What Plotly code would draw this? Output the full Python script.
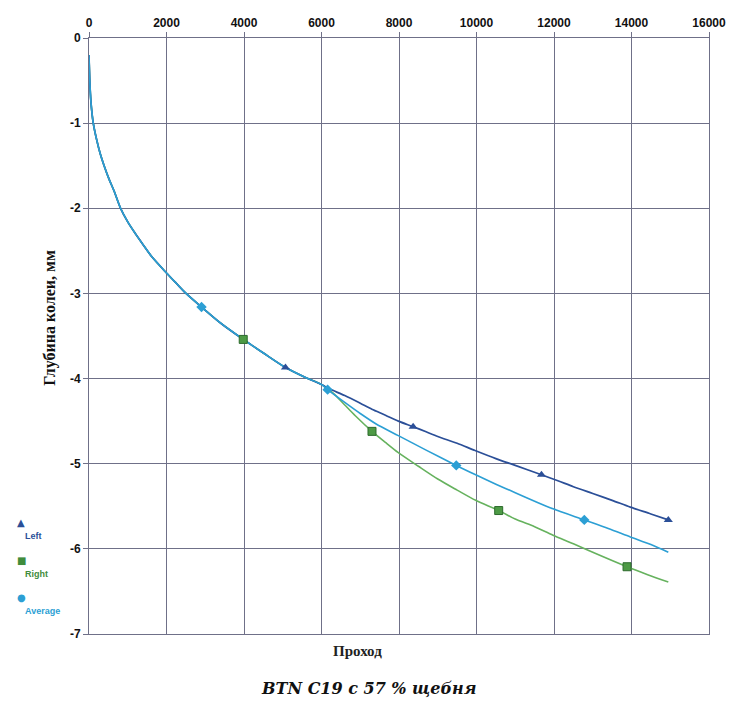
import plotly.graph_objects as go

# ---- data ----
early_x = [0, 20, 50, 110, 200, 290, 390, 520, 650, 815, 1000, 1200, 1400, 1623, 2000, 2250, 2504, 2904, 3400, 3980, 4500, 5070, 5600, 6000]
early_y = [-0.2, -0.5, -0.75, -1.0, -1.2, -1.36, -1.5, -1.66, -1.8, -2.0, -2.16, -2.3, -2.43, -2.57, -2.76, -2.88, -3.0, -3.16, -3.35, -3.54, -3.7, -3.87, -3.99, -4.07]

left_x = early_x + [6200, 6600, 7000, 7300, 7650, 7983, 8365, 8700, 9000, 9500, 9936, 10500, 11000, 11677, 12100, 12500, 13000, 13500, 13970, 14500, 14950]
left_y = early_y + [-4.12, -4.2, -4.29, -4.36, -4.43, -4.5, -4.565, -4.625, -4.68, -4.76, -4.84, -4.94, -5.02, -5.13, -5.2, -5.27, -5.35, -5.43, -5.51, -5.59, -5.66]

right_x = early_x + [6300, 6600, 6879, 7303, 7650, 7983, 8500, 9000, 9500, 9979, 10573, 11000, 11500, 11975, 12500, 13000, 13885, 14400, 14950]
right_y = early_y + [-4.17, -4.31, -4.44, -4.62, -4.75, -4.87, -5.03, -5.18, -5.31, -5.43, -5.55, -5.65, -5.74, -5.84, -5.94, -6.04, -6.21, -6.3, -6.39]

avg_x = early_x + [6158, 6600, 7000, 7400, 7983, 8700, 9478, 9979, 10500, 11000, 11500, 11975, 12782, 13400, 13970, 14500, 14950]
avg_y = early_y + [-4.13, -4.28, -4.41, -4.53, -4.67, -4.84, -5.02, -5.13, -5.24, -5.34, -5.44, -5.53, -5.66, -5.76, -5.86, -5.95, -6.04]

left_mx = [5070, 8365, 11677, 14950]
left_my = [-3.87, -4.565, -5.13, -5.66]
right_mx = [3980, 7303, 10573, 13885]
right_my = [-3.54, -4.62, -5.55, -6.21]
avg_mx = [2904, 6158, 9478, 12782]
avg_my = [-3.16, -4.13, -5.02, -5.66]

series_names = ["Left", "Right", "Average"]
x_ticks = [0, 2000, 4000, 6000, 8000, 10000, 12000, 14000, 16000]
y_ticks = [0, -1, -2, -3, -4, -5, -6, -7]

C_LEFT = "#2b4f98"
C_RIGHT_LINE = "#66b25e"
C_RIGHT_MK = "#3f8c3c"
C_AVG = "#2c9fd4"
GRID = "#6f7088"

fig = go.Figure()
fig.add_trace(go.Scatter(x=right_x, y=right_y, mode="lines", line=dict(color=C_RIGHT_LINE, width=1.6, shape="spline", smoothing=0.8), showlegend=False))
fig.add_trace(go.Scatter(x=left_x, y=left_y, mode="lines", line=dict(color=C_LEFT, width=1.7, shape="spline", smoothing=0.8), showlegend=False))
fig.add_trace(go.Scatter(x=avg_x, y=avg_y, mode="lines", line=dict(color=C_AVG, width=1.6, shape="spline", smoothing=0.8), showlegend=False))
fig.add_trace(go.Scatter(x=right_mx, y=right_my, mode="markers",
                         marker=dict(symbol="square", size=8, color="#4d9a45", line=dict(color="#2d6b2d", width=1)), showlegend=False))
fig.add_trace(go.Scatter(x=left_mx, y=left_my, mode="markers",
                         marker=dict(symbol="triangle-up", size=8, color=C_LEFT), showlegend=False))
fig.add_trace(go.Scatter(x=avg_mx, y=avg_my, mode="markers",
                         marker=dict(symbol="diamond", size=8, color=C_AVG), showlegend=False))

tickfont = dict(family="Liberation Sans, Arial", size=12, color="#111111", weight="bold")
fig.update_xaxes(range=[0, 16000], side="top", tickvals=x_ticks, ticktext=[str(v) for v in x_ticks],
                 showgrid=True, gridcolor=GRID, gridwidth=1, showline=True, linecolor=GRID, linewidth=1, mirror=True,
                 ticks="outside", ticklen=5, tickcolor=GRID, tickfont=tickfont, zeroline=False)
fig.update_yaxes(range=[-7, 0], tickvals=y_ticks, ticktext=[str(v) for v in y_ticks],
                 showgrid=True, gridcolor=GRID, gridwidth=1, showline=True, linecolor=GRID, linewidth=1, mirror=True,
                 ticks="outside", ticklen=5, tickcolor=GRID, tickfont=tickfont, zeroline=False)

L, R, T, B = 89, 21, 38, 76
W, H = 738, 710
pw, ph = W - L - R, H - T - B

def px(x):
    return (x - L) / pw

def py(y):
    return 1 - (y - T) / ph

anns = []
anns.append(dict(x=px(38), y=py(318), xref="paper", yref="paper", text="Глубина колеи, мм", textangle=-90,
                 showarrow=False, font=dict(family="Liberation Serif", size=16, color="#111111", weight="bold")))
anns.append(dict(x=px(361), y=py(661), xref="paper", yref="paper", text="Проход",
                 showarrow=False, font=dict(family="Liberation Serif", size=15, color="#222222", weight="bold")))
anns.append(dict(x=px(372), y=py(700), xref="paper", yref="paper", text="<b><i>BTN C19 с 57 % щебня</i></b>",
                 showarrow=False, font=dict(family="DejaVu Serif", size=16, color="#111111")))

# legend (symbols above labels)
leg = [("▲", C_LEFT, 530, series_names[0], 543),
       ("■", C_RIGHT_MK, 568, series_names[1], 581),
       ("●", C_AVG, 605, series_names[2], 618)]
for sym, col, sy, name, ty in leg:
    anns.append(dict(x=px(14), y=py(sy), xref="paper", yref="paper", text=sym, showarrow=False,
                     font=dict(family="DejaVu Sans", size=10, color=col)))
    anns.append(dict(x=px(22), y=py(ty), xref="paper", yref="paper", text=name, showarrow=False, xanchor="left",
                     font=dict(family="Liberation Sans", size=9, color=col, weight="bold")))

fig.update_layout(width=W, height=H, margin=dict(l=L, r=R, t=T, b=B), plot_bgcolor="white", paper_bgcolor="white",
                  annotations=anns, showlegend=False)

fig.write_html("out.html")
